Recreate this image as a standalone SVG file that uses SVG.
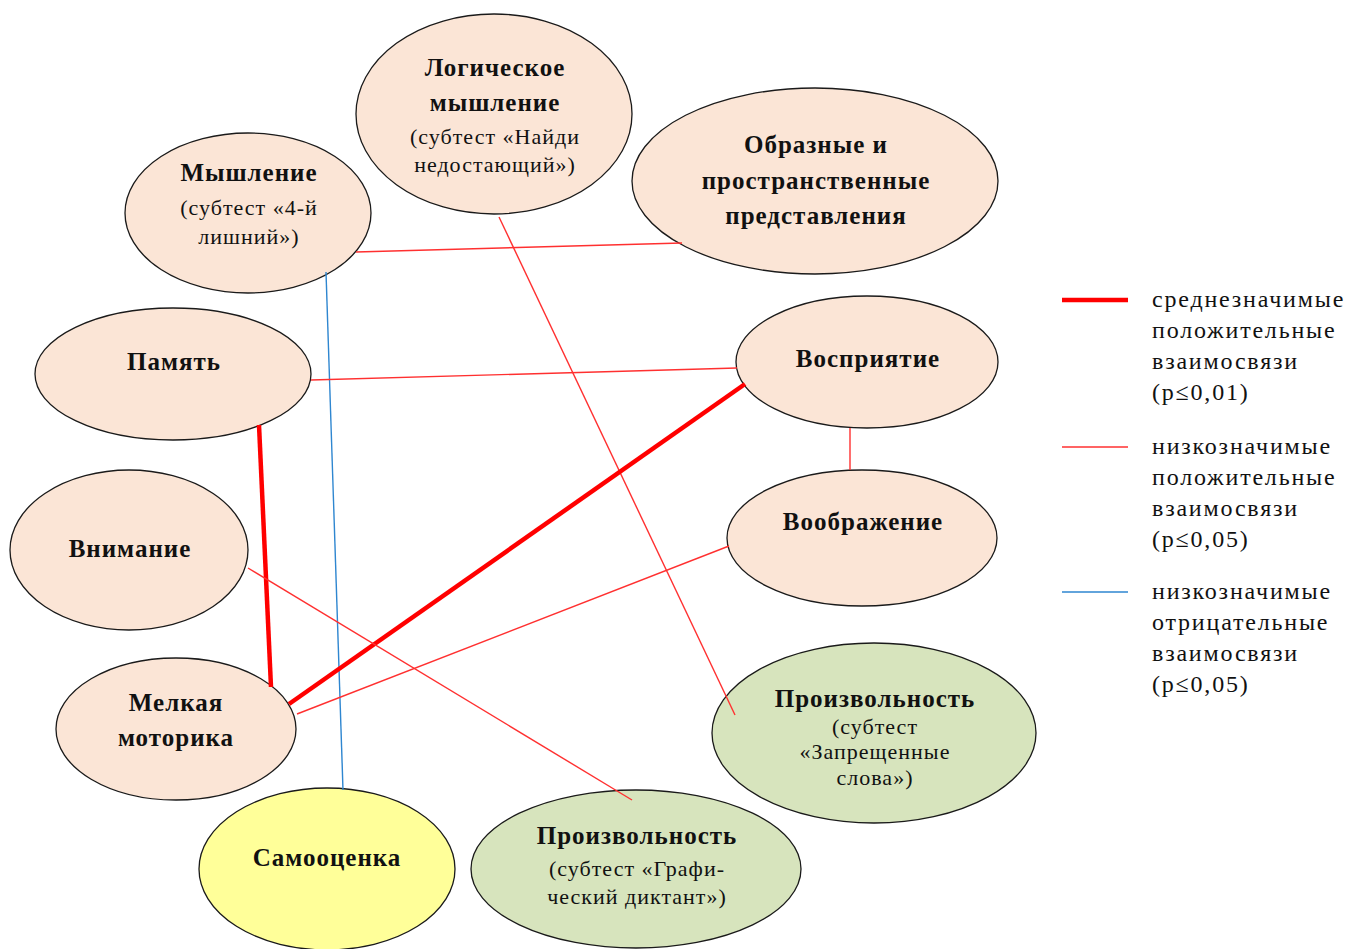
<svg xmlns="http://www.w3.org/2000/svg" width="1349" height="949" viewBox="0 0 1349 949">
<style>
.n{stroke:#1a1a1a;stroke-width:1.3}
.p{fill:#FBE5D6}
.g{fill:#D7E4BD}
.y{fill:#FFFF99}
.t{font-family:"Liberation Serif","Times New Roman",serif;font-weight:bold;font-size:25px;letter-spacing:1px;fill:#111;text-anchor:middle}
.s{font-family:"Liberation Serif","Times New Roman",serif;font-size:22px;letter-spacing:1px;fill:#111;text-anchor:middle}
.l{font-family:"Liberation Serif","Times New Roman",serif;font-size:24px;letter-spacing:1.8px;fill:#111}
.r1{stroke:#FF0000;stroke-width:4.5;fill:none}
.r2{stroke:#FF3030;stroke-width:1.4;fill:none}
.b{stroke:#2E86D0;stroke-width:1.4;fill:none}
</style>
<rect width="1349" height="949" fill="#fff"/>
<g id="n-logic"><ellipse class="n p" cx="494" cy="114" rx="138" ry="100"/><text class="t" x="495" y="76">Логическое</text><text class="t" x="495" y="111">мышление</text><text class="s" x="495" y="144">(субтест «Найди</text><text class="s" x="495" y="172">недостающий»)</text></g>
<g id="n-think"><ellipse class="n p" cx="248" cy="213" rx="123" ry="80"/><text class="t" x="249" y="181">Мышление</text><text class="s" x="249" y="215">(субтест «4-й</text><text class="s" x="249" y="244">лишний»)</text></g>
<g id="n-image"><ellipse class="n p" cx="815" cy="181" rx="183" ry="93"/><text class="t" x="816" y="153">Образные и</text><text class="t" x="816" y="189">пространственные</text><text class="t" x="816" y="224">представления</text></g>
<g id="n-memory"><ellipse class="n p" cx="173" cy="374" rx="138" ry="66"/><text class="t" x="174" y="370">Память</text></g>
<g id="n-percept"><ellipse class="n p" cx="867" cy="362" rx="131" ry="66"/><text class="t" x="868" y="367">Восприятие</text></g>
<g id="n-imagin"><ellipse class="n p" cx="862" cy="538" rx="135" ry="68"/><text class="t" x="863" y="530">Воображение</text></g>
<g id="n-attn"><ellipse class="n p" cx="129" cy="550" rx="119" ry="80"/><text class="t" x="130" y="557">Внимание</text></g>
<g id="n-motor"><ellipse class="n p" cx="176" cy="729" rx="120" ry="71"/><text class="t" x="176" y="711">Мелкая</text><text class="t" x="176" y="746">моторика</text></g>
<g id="n-vol1"><ellipse class="n g" cx="874" cy="733" rx="162" ry="90"/><text class="t" x="875" y="707">Произвольность</text><text class="s" x="875" y="734">(субтест</text><text class="s" x="875" y="759">«Запрещенные</text><text class="s" x="875" y="785">слова»)</text></g>
<g id="n-self"><ellipse class="n y" cx="327" cy="869" rx="128" ry="81"/><text class="t" x="327" y="866">Самооценка</text></g>
<g id="n-vol2"><ellipse class="n g" cx="636" cy="869" rx="165" ry="79"/><text class="t" x="637" y="844">Произвольность</text><text class="s" x="637" y="876">(субтест «Графи-</text><text class="s" x="637" y="904">ческий диктант»)</text></g>
<g id="connectors">
<line class="r2" x1="356" y1="252" x2="682" y2="243"/>
<line class="b" x1="326" y1="272" x2="343" y2="790"/>
<line class="r2" x1="499" y1="217" x2="735" y2="715"/>
<line class="r2" x1="311" y1="380" x2="737" y2="368"/>
<line class="r1" x1="259" y1="425" x2="271" y2="687"/>
<line class="r1" x1="745" y1="384" x2="289" y2="704"/>
<line class="r2" x1="850" y1="428" x2="850" y2="470"/>
<line class="r2" x1="729" y1="546" x2="297" y2="714"/>
<line class="r2" x1="248" y1="568" x2="632" y2="800"/>
</g>
<g id="legend">
<line class="r1" x1="1062" y1="300" x2="1128" y2="300"/>
<line class="r2" x1="1062" y1="447" x2="1128" y2="447"/>
<line class="b" x1="1062" y1="592" x2="1128" y2="592"/>
<text class="l" x="1152" y="307">среднезначимые</text>
<text class="l" x="1152" y="338">положительные</text>
<text class="l" x="1152" y="369">взаимосвязи</text>
<text class="l" x="1152" y="400">(p≤0,01)</text>
<text class="l" x="1152" y="454">низкозначимые</text>
<text class="l" x="1152" y="485">положительные</text>
<text class="l" x="1152" y="516">взаимосвязи</text>
<text class="l" x="1152" y="547">(p≤0,05)</text>
<text class="l" x="1152" y="599">низкозначимые</text>
<text class="l" x="1152" y="630">отрицательные</text>
<text class="l" x="1152" y="661">взаимосвязи</text>
<text class="l" x="1152" y="692">(p≤0,05)</text>
</g>
</svg>
